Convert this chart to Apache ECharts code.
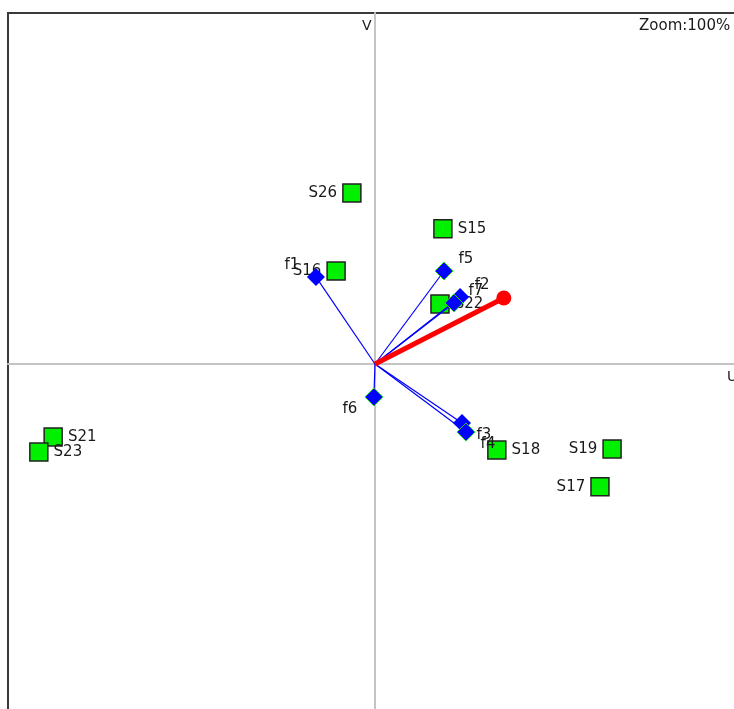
<!DOCTYPE html>
<html>
<head>
<meta charset="utf-8">
<script src="https://cdn.jsdelivr.net/npm/echarts@6/dist/echarts.min.js"></script>
<style>
html,body{margin:0;padding:0;background:#fff;overflow:hidden;}
#chart{width:760px;height:730px;}
</style>
</head>
<body>
<div id="chart"></div>
<script>
// ---- data ----
const sampleNames = ['S26', 'S15', 'S16', 'S22', 'S21', 'S23', 'S18', 'S19', 'S17'];
const sampleU = [-0.063, 0.185, -0.106, 0.177, -0.877, -0.916, 0.332, 0.646, 0.613];
const sampleV = [0.487, 0.385, 0.265, 0.171, -0.208, -0.251, -0.245, -0.242, -0.350];

const featureNames = ['f1', 'f5', 'f2', 'f7', 'f6', 'f3', 'f4'];
const featureU = [-0.161, 0.188, 0.232, 0.215, -0.003, 0.237, 0.248];
const featureV = [0.248, 0.265, 0.191, 0.174, -0.094, -0.168, -0.194];

const envNames = ['env'];
const envU = [0.351];
const envV = [0.188];

const axisNames = ['U', 'V'];
const zoomText = 'Zoom:100%';

// ---- styles ----
const sampleLabelSide = {S26:'left', S15:'right', S16:'left', S22:'right', S21:'right', S23:'right', S18:'right', S19:'left', S17:'left'};
const featureGreenBorder = {f1:false, f5:true, f2:false, f7:true, f6:true, f3:false, f4:true};
const font = 'DejaVu Sans, Verdana, sans-serif';
const txtColor = '#1a1a1a';

const chart = echarts.init(document.getElementById('chart'));

const sampleData = sampleNames.map((n, i) => ({
  value: [sampleU[i], sampleV[i]], name: n,
  label: {show: true, position: sampleLabelSide[n], distance: 5, formatter: n}
}));

const featureLineData = featureNames.map((n, i) => ({coords: [[0, 0], [featureU[i], featureV[i]]]}));

const featureData = featureNames.map((n, i) => ({
  value: [featureU[i], featureV[i]], name: n,
  itemStyle: {color: '#0000ff', borderColor: featureGreenBorder[n] ? '#22dd22' : '#0000ff', borderWidth: featureGreenBorder[n] ? 1 : 0, opacity: 1},
  label: {show: true, position: 'inside', formatter: n,
    offset: [featureU[i] >= 0 ? 22 : -24, featureV[i] >= 0 ? -12 : 12]}
}));

const envLineData = envNames.map((n, i) => ({coords: [[0, 0], [envU[i], envV[i]]]}));
const envData = envNames.map((n, i) => [envU[i], envV[i]]);

chart.setOption({
  animation: false,
  backgroundColor: '#fff',
  grid: {left: 8, top: 13, width: 734, height: 702, show: true, borderColor: '#3a3a3a', borderWidth: 2, backgroundColor: '#fff', outerBoundsMode: 'none'},
  xAxis: {type: 'value', min: -1, max: 1, axisLabel: {show: false}, axisTick: {show: false}, splitLine: {show: false},
    axisLine: {show: true, onZero: true, lineStyle: {color: '#c4c4c4', width: 2}}},
  yAxis: {type: 'value', min: -1, max: 1, axisLabel: {show: false}, axisTick: {show: false}, splitLine: {show: false},
    axisLine: {show: true, onZero: true, lineStyle: {color: '#c4c4c4', width: 2}}},
  graphic: [
    {type: 'text', left: 362, top: 19, style: {text: axisNames[1], font: '14px ' + font, fill: txtColor}},
    {type: 'text', left: 727, top: 370, style: {text: axisNames[0], font: '14px ' + font, fill: txtColor}},
    {type: 'text', left: 639, top: 19, style: {text: zoomText, font: '15px ' + font, fill: txtColor}}
  ],
  series: [
    {type: 'scatter', z: 2, data: sampleData, symbol: 'rect', symbolSize: 18,
      itemStyle: {color: '#00f000', borderColor: '#222', borderWidth: 1.5, opacity: 1},
      label: {color: txtColor, fontFamily: font, fontSize: 15}},
    {type: 'lines', z: 3, coordinateSystem: 'cartesian2d', data: featureLineData,
      lineStyle: {color: '#0000ff', width: 1.2, opacity: 1}},
    {type: 'lines', z: 4, coordinateSystem: 'cartesian2d', data: envLineData,
      lineStyle: {color: '#ff0000', width: 5, opacity: 1}},
    {type: 'scatter', z: 5, data: envData, symbol: 'circle', symbolSize: 15,
      itemStyle: {color: '#ff0000', opacity: 1}},
    {type: 'scatter', z: 6, data: featureData, symbol: 'diamond', symbolSize: 18,
      itemStyle: {opacity: 1},
      label: {color: txtColor, fontFamily: font, fontSize: 15}}
  ]
});
</script>
</body>
</html>
